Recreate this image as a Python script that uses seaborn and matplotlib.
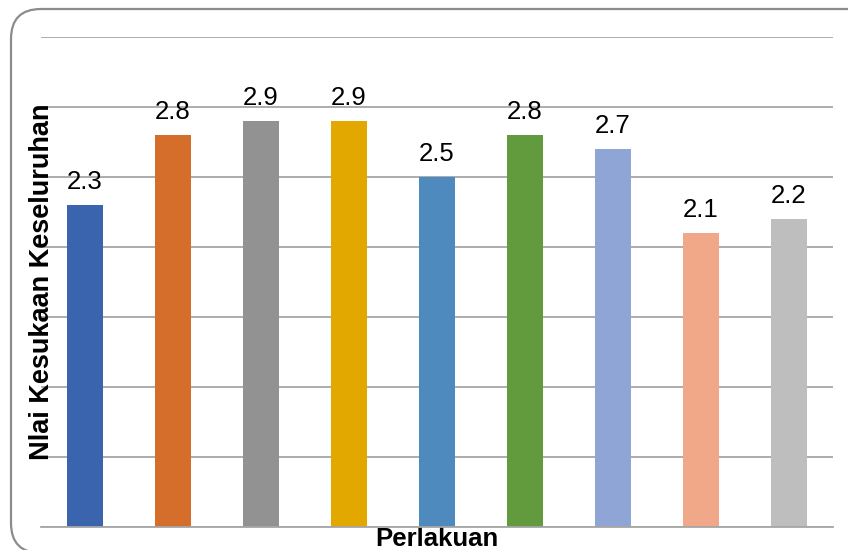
import matplotlib
matplotlib.use("Agg")
import matplotlib.pyplot as plt
import matplotlib.patches as mpatches
import matplotlib.transforms as mtransforms
import seaborn as sns
import pandas as pd

categories = ["P1", "P2", "P3", "P4", "P5", "P6", "P7", "P8", "P9"]
values = [2.3, 2.8, 2.9, 2.9, 2.5, 2.8, 2.7, 2.1, 2.2]
colors = ["#3A64AD", "#D46E2A", "#929292", "#E3A800", "#4F8ABE",
          "#629A3E", "#8FA5D6", "#F0A889", "#BEBEBE"]
x_label = "Perlakuan"
y_label = "Nlai Kesukaan Keseluruhan"

sns.set_theme(style="white")
plt.rcParams["font.family"] = ["Liberation Sans", "DejaVu Sans"]

df = pd.DataFrame({"Perlakuan": categories, "Nilai": values})

fig = plt.figure(figsize=(8.48, 5.5), dpi=100)
ax = fig.add_axes([41 / 848, 23 / 550, 792 / 848, 490 / 550])

sns.barplot(data=df, x="Perlakuan", y="Nilai", hue="Perlakuan",
            palette=colors, width=0.41, legend=False, ax=ax, saturation=1,
            linewidth=0)

ax.set_ylim(0, 3.5)
ax.set_xlim(-0.5, len(categories) - 0.5)
ax.set_yticks([0, 0.5, 1, 1.5, 2, 2.5, 3, 3.5])
ax.set_yticklabels([])
ax.set_xticks([])
ax.yaxis.grid(True, color="#A6A6A6", linewidth=1.3)
ax.set_axisbelow(True)
for s in ["top", "right", "left"]:
    ax.spines[s].set_visible(False)
ax.spines["bottom"].set_color("#A6A6A6")
ax.spines["bottom"].set_linewidth(1.3)
ax.tick_params(length=0)

for cont in ax.containers:
    ax.bar_label(cont, fmt="%.1f", padding=8, fontsize=18.5, color="black")

ax.set_xlabel(x_label, fontsize=18.5, fontweight="bold", color="black", labelpad=0)
ax.set_ylabel(y_label, fontsize=19.5, fontweight="bold", color="black")
ax.yaxis.set_label_coords(0.018, 0.5)
ax.xaxis.set_label_coords(0.5, -0.039)
ax.xaxis.label.set_verticalalignment("baseline")

frame = mpatches.FancyBboxPatch((11, -3), 870, 544,
                                boxstyle="round,pad=0,rounding_size=30",
                                transform=mtransforms.IdentityTransform(),
                                facecolor="none", edgecolor="#8C8C8C",
                                linewidth=1.6)
fig.patches.append(frame)

fig.savefig("out.png", dpi=100)
